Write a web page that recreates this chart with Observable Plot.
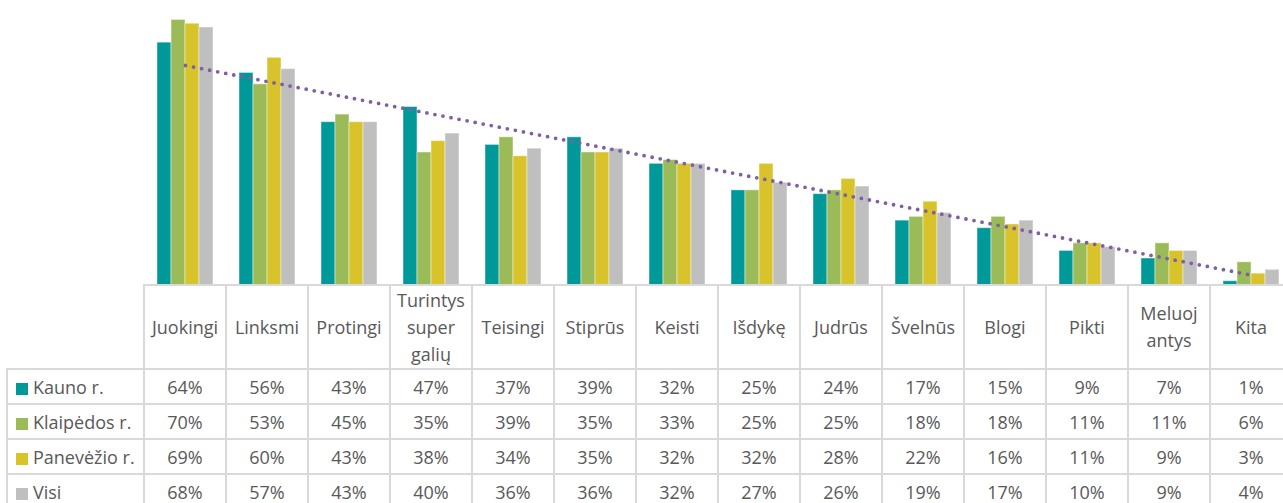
<!DOCTYPE html>
<html><head><meta charset="utf-8">
<script src="https://cdn.jsdelivr.net/npm/d3@7"></script>
<script src="https://cdn.jsdelivr.net/npm/@observablehq/plot@0.6"></script>
<style>
html,body{margin:0;padding:0;background:#fff;overflow:hidden;width:1283px;height:503px;position:relative;}
#chart{position:absolute;left:0;top:0;}
#chart svg{display:block;}
table{position:absolute;left:6px;top:284px;border-collapse:collapse;table-layout:fixed;width:1285px;font-family:"Open Sans",sans-serif;font-size:18px;color:#595959;}
td{border:2px solid #d9d9d9;padding:0 2px;text-align:center;vertical-align:middle;line-height:27px;overflow:hidden;}
tr.head td{height:82px;}
tr.row td{height:33px;line-height:24px;}
td.corner{border-top:none;border-left:none;}
td.lab{text-align:left;padding-left:8px;white-space:nowrap;}
.sw{display:inline-block;width:12px;height:12px;margin-right:5px;vertical-align:-1px;}
</style></head>
<body>
<div id="chart"></div>
<script>
const categories = ["Juokingi","Linksmi","Protingi","Turintys super galių","Teisingi","Stiprūs","Keisti","Išdykę","Judrūs","Švelnūs","Blogi","Pikti","Meluoj\u200Bantys","Kita"];
const seriesNames = ["Kauno r.","Klaipėdos r.","Panevėžio r.","Visi"];
const kauno = [64,56,43,47,37,39,32,25,24,17,15,9,7,1];
const klaipedos = [70,53,45,35,39,35,33,25,25,18,18,11,11,6];
const panevezio = [69,60,43,38,34,35,32,32,28,22,16,11,9,3];
const visi = [68,57,43,40,36,36,32,27,26,19,17,10,9,4];
const colors = ["#009999","#9bbb59","#d9c32b","#bfbfbf"];
const trendColor = "#7d5fa5";

const series = [kauno, klaipedos, panevezio, visi];

// linear trendline (least squares) of "Visi"
const n = visi.length;
const mx = (n - 1) / 2;
const my = d3.mean(visi);
let sxy = 0, sxx = 0;
visi.forEach((v, i) => { sxy += (i - mx) * (v - my); sxx += (i - mx) ** 2; });
const slope = sxy / sxx, icpt = my - slope * mx;
const trend = categories.map((c, i) => ({c, v: icpt + slope * i}));

const marks = series.map((vals, i) =>
  Plot.barY(categories.map((c, j) => ({c, v: vals[j]})), {
    x: "c", y: "v", fill: colors[i], stroke: "white", strokeOpacity: 0.45, strokeWidth: 1,
    insetLeft: 13 + 14 * i, insetRight: 13 + 14 * (3 - i)
  })
);
marks.push(Plot.line(trend, {x: "c", y: "v", stroke: trendColor, strokeWidth: 3.8, strokeDasharray: "0 8.2", strokeLinecap: "round"}));

const chart = Plot.plot({
  width: 1283, height: 286,
  marginTop: 0, marginBottom: 0, marginLeft: 0, marginRight: 0,
  x: {domain: categories, range: [144, 1292], padding: 0, axis: null},
  y: {domain: [0, 75], range: [284.5, 0.5], axis: null},
  style: {background: "white", overflow: "hidden"},
  marks
});
document.getElementById("chart").append(chart);

// data table below the chart
const table = document.createElement("table");
let html = '<colgroup><col style="width:137px">' + categories.map(() => '<col style="width:82px">').join("") + '</colgroup>';
html += '<tr class="head"><td class="corner"></td>' + categories.map(c => `<td>${c}</td>`).join("") + '</tr>';
series.forEach((vals, i) => {
  html += `<tr class="row"><td class="lab"><span class="sw" style="background:${colors[i]}"></span>${seriesNames[i]}</td>` +
    vals.map(v => `<td>${v}%</td>`).join("") + '</tr>';
});
table.innerHTML = html;
document.body.append(table);
</script>
</body></html>
